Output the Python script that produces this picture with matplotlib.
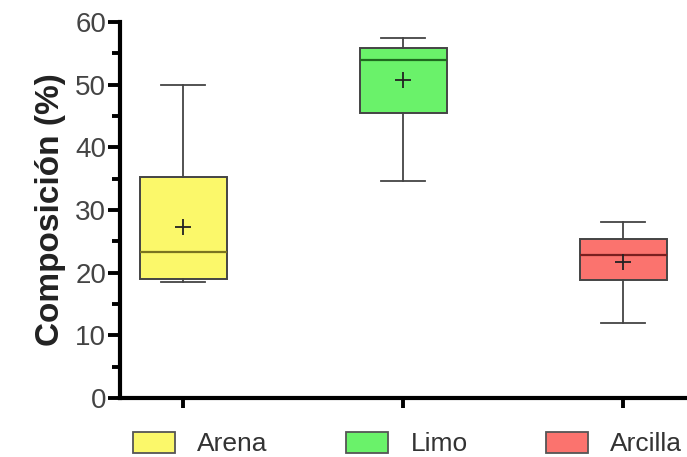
import matplotlib.pyplot as plt
from matplotlib.patches import Patch
from matplotlib.ticker import MultipleLocator

plt.rcParams['font.family'] = ['Liberation Sans', 'DejaVu Sans']

# values (%)
labels = ['Arena', 'Limo', 'Arcilla']
whislo = [18.5, 34.6, 12.0]
q1 = [19.0, 45.5, 18.8]
med = [23.3, 53.9, 22.8]
q3 = [35.2, 55.8, 25.4]
whishi = [50.0, 57.4, 28.1]
means = [27.3, 50.7, 21.7]

colors = ['#fbf86a', '#6af26a', '#fb736e']
med_colors = ['#7a7420', '#1f6a1f', '#7a1f1f']

stats = []
for i in range(len(labels)):
    stats.append(dict(label=labels[i], whislo=whislo[i], q1=q1[i], med=med[i],
                      q3=q3[i], whishi=whishi[i], mean=means[i], fliers=[]))

fig = plt.figure(figsize=(6.87, 4.57), dpi=100)
ax = fig.add_axes([0.175, 0.129, 0.825, 0.823])

pos = list(range(len(labels)))
bp = ax.bxp(stats, positions=pos, widths=0.395, patch_artist=True, showmeans=True,
            showfliers=False, capwidths=0.2,
            boxprops=dict(edgecolor='#444444', linewidth=1.4),
            whiskerprops=dict(color='#444444', linewidth=1.3),
            capprops=dict(color='#444444', linewidth=1.3),
            medianprops=dict(linewidth=1.6),
            meanprops=dict(marker='+', markersize=11, markeredgecolor='#222222',
                           markeredgewidth=1.3))
for box, c in zip(bp['boxes'], colors):
    box.set_facecolor(c)
for m, c in zip(bp['medians'], med_colors):
    m.set_color(c)

ax.set_xlim(-0.286, 2.29)
ax.set_ylim(0, 60)
ax.set_xticks(pos)
ax.set_xticklabels([])
ax.yaxis.set_major_locator(MultipleLocator(10))
ax.yaxis.set_minor_locator(MultipleLocator(5))
ax.tick_params(axis='y', which='major', length=9, width=2.8, labelsize=20,
               labelcolor='#444444', pad=1)
ax.tick_params(axis='y', which='minor', length=5.5, width=2.8)
ax.tick_params(axis='x', length=7, width=2.8)
for s in ['top', 'right']:
    ax.spines[s].set_visible(False)
for s in ['left', 'bottom']:
    ax.spines[s].set_linewidth(3.0)
ax.set_ylabel('Composición (%)', fontsize=24, fontweight='bold', labelpad=7,
              color='#222222')

handles = [Patch(facecolor=c, edgecolor='#555555', linewidth=1.3) for c in colors]
fig.legend(handles, labels, loc='center left', bbox_to_anchor=(0.1936, 0.028),
           ncol=3, frameon=False, fontsize=19, handlelength=1.6, handleheight=0.83,
           handletextpad=0.83, columnspacing=2.98, borderpad=0, borderaxespad=0,
           labelcolor='#333333')

fig.savefig('out.png', dpi=100)
